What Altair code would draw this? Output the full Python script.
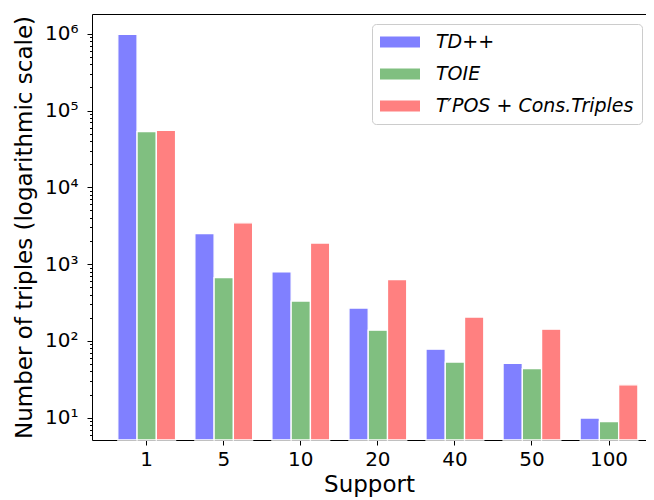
import altair as alt
import pandas as pd

# ---- data ----
support = ["1", "5", "10", "20", "40", "50", "100"]
series_names = ["TD++", "TOIE", "T′POS + Cons.Triples"]
t_dpp = [980000, 2500, 790, 268, 78, 51, 9.9]
t_oie = [53000, 665, 330, 138, 53, 43.5, 8.9]
t_pos = [55000, 3450, 1880, 630, 204, 142, 26.8]
colors = ["#8080ff", "#80bf80", "#ff8080"]
y_min, y_max = 5.12, 1.806e6
y_tick_values = [m * 10 ** e for e in range(0, 7) for m in range(1, 10)
                 if y_min <= m * 10 ** e <= y_max]

rows = []
for name, vals in zip(series_names, [t_dpp, t_oie, t_pos]):
    for s, v in zip(support, vals):
        rows.append({"support": s, "series": name, "count": v})
df = pd.DataFrame(rows)

FONT = "DejaVu Sans"
is_decade = "abs(log(datum.value)/LN10 - round(log(datum.value)/LN10)) < 0.001"
sup = "['⁰','¹','²','³','⁴','⁵','⁶','⁷']"

x_scale = alt.Scale(domain=support, paddingInner=0.25, paddingOuter=0.22, align=0.761)
y_scale = alt.Scale(type="log", domain=[y_min, y_max], nice=False)

bars = alt.Chart(df).mark_bar(stroke="white", strokeWidth=1.3).encode(
    x=alt.X(
        "support:N", sort=support, scale=x_scale,
        axis=alt.Axis(title="Support", labelAngle=0, labelFont=FONT, labelFontSize=20,
                      labelColor="black", titleFont=FONT, titleFontSize=23,
                      titleFontWeight="normal", titleColor="black", tickSize=5,
                      tickColor="black", domainColor="black", labelPadding=4,
                      titlePadding=4),
    ),
    xOffset=alt.XOffset("series:N", sort=series_names,
                        scale=alt.Scale(domain=series_names, paddingInner=0, paddingOuter=0)),
    y=alt.Y(
        "count:Q", scale=y_scale, stack=None,
        axis=alt.Axis(
            title="Number of triples (logarithmic scale)",
            values=y_tick_values,
            labelExpr=f"{is_decade} ? '10' + {sup}[round(log(datum.value)/LN10)] : ''",
            tickSize={"condition": {"test": is_decade, "value": 5}, "value": 2.5},
            labelOverlap=False, labelFlush=False, labelBound=False,
            labelFont=FONT, labelFontSize=20, labelColor="black", labelPadding=9,
            titleFont=FONT, titleFontSize=23, titleFontWeight="normal",
            titleColor="black", titlePadding=8, tickColor="black",
            domainColor="black", grid=False,
        ),
    ),
    y2=alt.datum(y_min),
    color=alt.Color(
        "series:N", sort=series_names,
        scale=alt.Scale(domain=series_names, range=colors),
        legend=alt.Legend(
            title=None, orient="none", legendX=280, legendY=10, direction="vertical",
            symbolType="M-1,-0.55L3,-0.55L3,0.55L-1,0.55Z", symbolSize=400,
            symbolStrokeWidth=0, symbolOpacity=1, labelFont=FONT, labelFontSize=19,
            labelFontStyle="italic", labelColor="black", labelOffset=36,
            rowPadding=12, padding=8, strokeColor="#cccccc", cornerRadius=4,
            fillColor="white", labelLimit=400,
        ),
    ),
)

# top spine: an extra x axis on top sharing the same scale, no ticks/labels
top = alt.Chart(df).mark_bar(opacity=0).encode(
    x=alt.X("support:N", sort=support, scale=x_scale,
            axis=alt.Axis(orient="top", labels=False, ticks=False, title=None,
                          domainColor="black", grid=False)),
    y=alt.Y("count:Q", scale=y_scale, stack=None, axis=None),
    y2=alt.datum(y_min),
)

chart = alt.layer(bars, top).resolve_axis(x="independent", y="independent").properties(
    width=554, height=426,
    autosize=alt.AutoSizeParams(type="none"),
    padding={"left": 84, "top": 6, "right": 0, "bottom": 64},
).configure_view(stroke=None)

chart.save("out.html", embed_options={"renderer": "svg", "actions": False})
